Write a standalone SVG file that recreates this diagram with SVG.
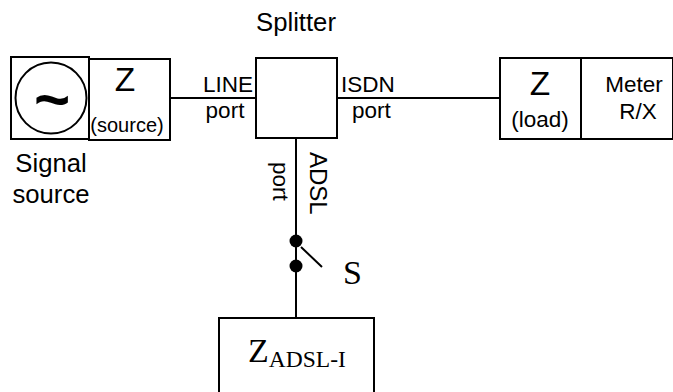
<svg xmlns="http://www.w3.org/2000/svg" width="673" height="392" viewBox="0 0 673 392">
<style>
rect{fill:#fff;stroke:#000;stroke-width:2}
.c{fill:none;stroke:#000;stroke-width:2}
text{font-family:"Liberation Sans",Arial,sans-serif;font-size:22.5px;fill:#000}
.s{font-family:"Liberation Serif","Times New Roman",serif;font-size:34px}
.m{text-anchor:middle}
.z{font-size:33.5px}
.l{font-size:25.7px}
</style>
<rect width="673" height="392" style="fill:#fff;stroke:none"/>
<g id="connectors">
<path class="c" d="M170 98H256M338 98H500M296 138V318M301 247L322 267"/>
</g>
<g id="source"><rect x="11" y="57" width="78" height="82"/><circle cx="51" cy="98" r="35.5" class="c"/>
<text x="52" y="120" class="m" style="font-size:62px;font-weight:bold">~</text></g>
<g id="zsource"><rect x="89" y="59" width="81" height="81"/><text x="125" y="91" class="m z">Z</text><text x="127" y="132" class="m" style="font-size:20px">(source)</text></g>
<g id="signal-label"><text x="51" y="172" class="m l">Signal</text><text x="51" y="203" class="m l">source</text></g>
<g id="splitter"><rect x="256" y="58" width="81" height="80"/><text x="296" y="31" class="m l">Splitter</text></g>
<g id="port-labels"><text x="228" y="92" class="m">LINE</text><text x="225" y="118" class="m">port</text>
<text x="341" y="92">ISDN</text><text x="352" y="118">port</text>
<text transform="translate(310 152) rotate(90)" style="font-size:24px">ADSL</text><text transform="translate(273 162) rotate(90)">port</text></g>
<g id="zload"><rect x="500" y="58" width="81" height="81"/><text x="540" y="95" class="m z">Z</text><text x="540" y="127" class="m">(load)</text></g>
<g id="meter"><rect x="581" y="58" width="92" height="81"/><text x="634" y="92" class="m">Meter</text><text x="638" y="119" class="m">R/X</text></g>
<g id="switch"><circle cx="296" cy="241" r="6.5"/><circle cx="296" cy="266" r="6.5"/><text x="343" y="284" class="s">S</text></g>
<g id="zadsl"><rect x="219" y="318" width="155" height="84"/><text x="248" y="362" class="s">Z<tspan dy="5" style="font-size:23.5px">ADSL-I</tspan></text></g>
</svg>
